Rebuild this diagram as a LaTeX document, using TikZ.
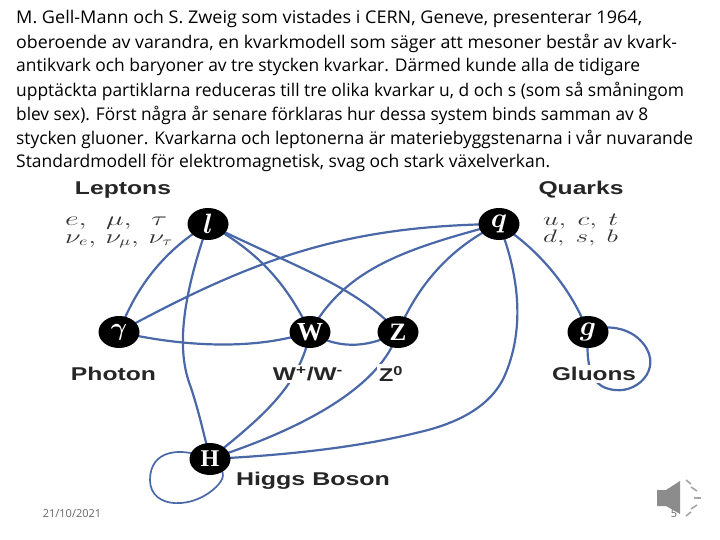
\documentclass[tikz,border=0pt]{standalone}
\usepackage{amsmath}
\usepackage{graphicx}
\usepackage{fontspec}
\setmainfont{Open Sans}
\newfontfamily\labfont{Liberation Sans}
\newfontfamily\ballfont{Liberation Serif}
\usetikzlibrary{shapes.geometric}
\definecolor{linkblue}{HTML}{4A68A8}
\newcommand{\fitw}[2]{\resizebox{#1pt}{\height}{#2}}
\tikzset{
  x=1pt,y=-1pt,
  ball/.style={ellipse,fill=black,text=white,minimum width=41pt,minimum height=32pt,inner sep=0pt,font=\fontsize{22}{22}\selectfont\bfseries},
  link/.style={draw=linkblue,line width=2.2pt},
  bodyline/.style={anchor=west,inner sep=0pt,font=\fontsize{17.5}{20}\selectfont,text=black},
  title/.style={font=\labfont\bfseries\fontsize{18.5}{20}\selectfont,text=black!85,inner sep=2pt,fill=white},
  parts/.style={font=\fontsize{16}{17}\selectfont,text=black!80,inner sep=0pt,anchor=base west},
  foot/.style={font=\fontsize{11}{12}\selectfont,text=black!60,inner sep=0pt}
}
\begin{document}
\begin{tikzpicture}
\useasboundingbox (0,0) rectangle (720,540);
\fill[white] (0,0) rectangle (720,540);
\node[bodyline] (t1) at (16,19) {\fitw{626}{M. Gell-Mann och S. Zweig som vistades i CERN, Geneve, presenterar 1964,}};
\node[bodyline] (t2) at (16,43) {\fitw{661}{oberoende av varandra, en kvarkmodell som säger att mesoner består av kvark-}};
\node[bodyline] (t3) at (16,67) {\fitw{624}{antikvark och baryoner av tre stycken kvarkar. Därmed kunde alla de tidigare}};
\node[bodyline] (t4) at (16,91) {\fitw{668}{upptäckta partiklarna reduceras till tre olika kvarkar u, d och s (som så småningom}};
\node[bodyline] (t5) at (16,115) {\fitw{632}{blev sex). Först några år senare förklaras hur dessa system binds samman av 8}};
\node[bodyline] (t6) at (16,139) {\fitw{677}{stycken gluoner. Kvarkarna och leptonerna är materiebyggstenarna i vår nuvarande}};
\node[bodyline] (t7) at (16,163) {\fitw{534}{Standardmodell för elektromagnetisk, svag och stark växelverkan.}};

\coordinate (lc) at (208,224);
\coordinate (qc) at (499,224);
\coordinate (ac) at (119,332);
\coordinate (wc) at (310,332);
\coordinate (zc) at (398,332);
\coordinate (gc) at (588,332);
\coordinate (hc) at (210,459);

\draw[link] (lc) .. controls (165,250) and (137,285) .. (ac);
\draw[link] (lc) .. controls (185,290) and (175,345) .. (190,385) .. controls (197,405) and (203,430) .. (hc);
\draw[link] (lc) .. controls (255,250) and (285,280) .. (wc);
\draw[link] (lc) .. controls (290,265) and (355,285) .. (zc);
\draw[link] (qc) .. controls (350,226) and (260,255) .. (ac);
\draw[link] (qc) .. controls (400,250) and (345,270) .. (wc);
\draw[link] (qc) .. controls (455,245) and (420,280) .. (zc);
\draw[link] (qc) .. controls (525,290) and (520,340) .. (505,375) .. controls (490,410) and (450,425) .. (420,432) .. controls (360,447) and (290,455) .. (hc);
\draw[link] (qc) .. controls (540,250) and (572,290) .. (gc);
\draw[link] (ac) .. controls (175,345) and (250,352) .. (wc);
\draw[link] (wc) .. controls (335,348) and (365,350) .. (zc);
\draw[link] (wc) .. controls (300,385) and (265,415) .. (hc);
\draw[link] (zc) .. controls (385,375) and (330,420) .. (hc);
\draw[link] (gc) .. controls (600,325) and (625,325) .. (640,340) .. controls (665,365) and (640,393) .. (615,390) .. controls (595,388) and (585,375) .. (gc);
\draw[link,line width=1.7pt] (hc) .. controls (180,446) and (150,450) .. (150,480) .. controls (150,510) and (195,510) .. (218,485) .. controls (226,476) and (225,470) .. (hc);

\node[ball] (l) at (lc) {\scalebox{1.35}{$\boldsymbol{l}$}};
\node[ball] (q) at (qc) {\scalebox{1.35}{$\boldsymbol{q}$}};
\node[ball] (a) at (ac) {\scalebox{1.2}{$\boldsymbol{\gamma}$}};
\node[ball,font=\fontsize{26}{26}\selectfont] (w) at (wc) {\ballfont\bfseries W};
\node[ball,font=\fontsize{25}{25}\selectfont] (z) at (zc) {\ballfont\bfseries Z};
\node[ball] (g) at (gc) {\scalebox{1.35}{$\boldsymbol{g}$}};
\node[ball,font=\fontsize{24}{24}\selectfont] (h) at (hc) {\ballfont\bfseries H};

\node[title] (leptons) at (123,190) {\fitw{96}{Leptons}};
\node[title] (quarks) at (581,190) {\fitw{85}{Quarks}};
\node[title] (photon) at (113.5,374) {\fitw{85}{Photon}};
\node[title] (wlab) at (308,374) {\fitw{70}{W\textsuperscript{+}/W\textsuperscript{-}}};
\node[title] (zlab) at (391,374) {\fitw{24}{Z\textsuperscript{0}}};
\node[title] (glab) at (594,374) {\fitw{84}{Gluons}};
\node[title,fill=none] (hlab) at (313,481) {\fitw{154}{Higgs Boson}};

\node[parts] (lp1) at (65,225) {\resizebox{102pt}{8.5pt}{$e,\ \ \mu,\ \ \tau$}};
\node[parts] (lp2) at (65,243) {\resizebox{108pt}{8.5pt}{$\nu_e,\,\nu_\mu,\,\nu_\tau$}};
\node[parts] (qp1) at (543,225) {\resizebox{75pt}{11.5pt}{$u,\ c,\ t$}};
\node[parts] (qp2) at (543,243) {\resizebox{75pt}{12.5pt}{$d,\ s,\ b$}};

\node[foot] (date) at (72,514) {21/10/2021};
\node[foot] (num) at (674,514) {5};

\fill[black!45] (657,490) -- (666,490) -- (680,481) -- (680,514) -- (666,506) -- (657,506) -- cycle;
\foreach \a/\b/\c/\d in {686/480/691/484, 691/487/697/491, 694/498/701/498, 691/509/697/505, 686/516/691/512}
  \draw[black!35,line width=1.6pt] (\a,\b) -- (\c,\d);
\end{tikzpicture}
\end{document}
